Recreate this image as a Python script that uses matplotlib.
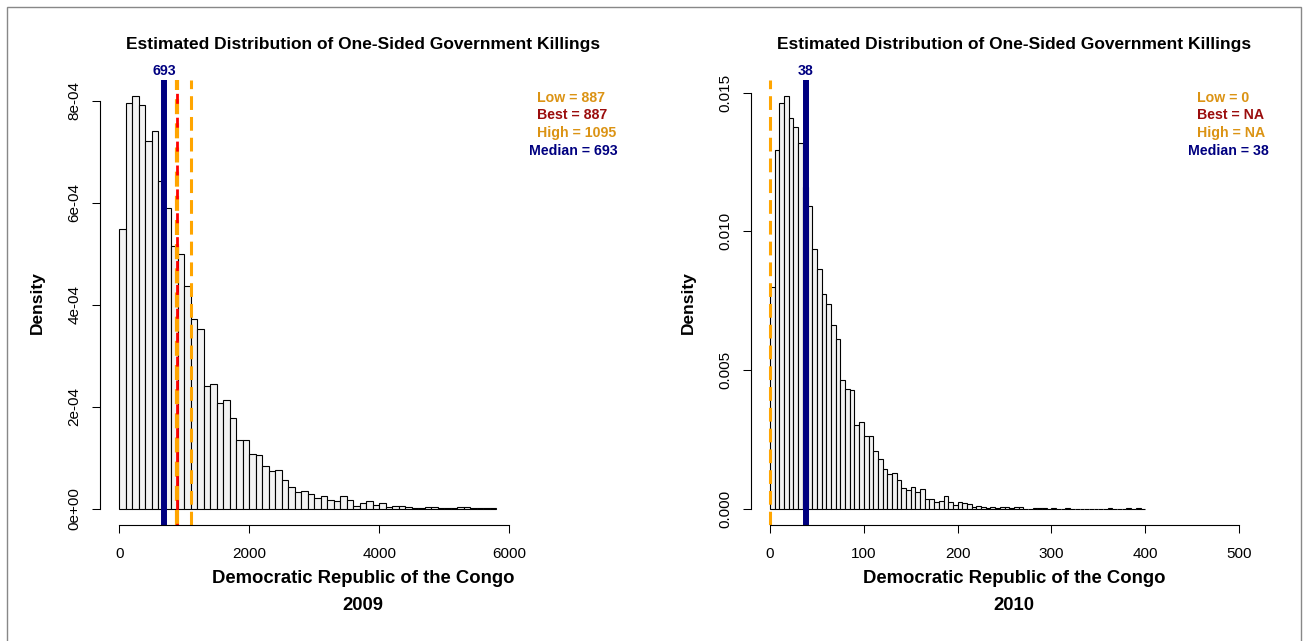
import numpy as np
import matplotlib
matplotlib.use('Agg')
import matplotlib.pyplot as plt
import matplotlib.transforms as mtransforms
from matplotlib.patches import Rectangle

plt.rcParams['font.family'] = ['Liberation Sans', 'DejaVu Sans']

# ---- data ----
title = 'Estimated Distribution of One-Sided Government Killings'
country = 'Democratic Republic of the Congo'

# 2009: 58 bins of width 100 (0 - 5800), density in units of 1e-4
bin_width_2009 = 100
density_2009 = [5.48, 7.96, 8.09, 7.91, 7.20, 7.40, 6.42, 5.89, 5.15, 4.99,
                4.37, 3.71, 3.52, 2.41, 2.45, 2.07, 2.12, 1.77, 1.35, 1.34,
                1.06, 1.04, 0.83, 0.73, 0.75, 0.55, 0.43, 0.32, 0.35, 0.29,
                0.20, 0.245, 0.167, 0.14, 0.24, 0.16, 0.043, 0.10, 0.14, 0.075,
                0.10, 0.035, 0.043, 0.055, 0.03, 0.01, 0.006, 0.024, 0.024, 0.006,
                0.003, 0.003, 0.024, 0.024, 0.01, 0.003, 0.003, 0.003]
low_2009, best_2009, high_2009, median_2009 = 887, 887, 1095, 693

# 2010: 80 bins of width 5 (0 - 400)
bin_width_2010 = 5
density_2010 = [0.00799, 0.01294, 0.01464, 0.01488, 0.0141, 0.01375, 0.01318, 0.0116,
                0.0109, 0.00935, 0.00863, 0.00772, 0.00739, 0.00661, 0.00612, 0.00464,
                0.00432, 0.00427, 0.00301, 0.00312, 0.0026, 0.00263, 0.00208, 0.00177,
                0.00141, 0.00125, 0.00128, 0.00103, 0.000735, 0.000674, 0.000793, 0.000613,
                0.000721, 0.00036, 0.00036, 0.00023, 0.000267, 0.000447, 0.00023, 0.000123,
                0.000252, 0.000216, 0.000159, 0.00006, 0.000108, 0.00006, 0.000036, 0.00006,
                0.000025, 0.000072, 0.000072, 0.000036, 0.00006, 0.00006, 0, 0,
                0.000025, 0.000025, 0.000025, 0, 0.000025, 0, 0, 0.000025,
                0, 0, 0, 0, 0, 0, 0, 0,
                0.000025, 0, 0, 0, 0.000025, 0, 0.000025, 0]
low_2010, median_2010 = 0, 38

xticks_2009 = [0, 2000, 4000, 6000]
yticks_2009 = [0, 2e-4, 4e-4, 6e-4, 8e-4]
ytick_labels_2009 = ['0e+00', '2e-04', '4e-04', '6e-04', '8e-04']
xticks_2010 = [0, 100, 200, 300, 400, 500]
yticks_2010 = [0, 0.005, 0.010, 0.015]
ytick_labels_2010 = ['0.000', '0.005', '0.010', '0.015']

ORANGE = '#FFA500'
TXT_ORANGE = '#DB9314'
DARKRED = '#9B0D0D'
NAVY = '#000080'


def draw_panel(ax, width, dens, year, xlim, xticks, yticks, yticklabels,
               legend, median, lines):
    dens = np.asarray(dens, dtype=float)
    edges = np.arange(len(dens)) * width
    ax.bar(edges, dens, width=width, align='edge', color='#F2F2F2',
           edgecolor='black', linewidth=0.8)

    for x, col, lw, ls in lines:
        ax.axvline(x, color=col, lw=lw, ls=ls)
    ax.axvline(median, color=NAVY, lw=4.3)

    ax.set_xlim(*xlim)
    top = dens.max()
    ax.set_ylim(-0.04 * top, 1.04 * top)

    for s in ['top', 'right']:
        ax.spines[s].set_visible(False)
    ax.spines['left'].set_bounds(yticks[0], yticks[-1])
    ax.spines['bottom'].set_bounds(xticks[0], xticks[-1])
    ax.set_xticks(xticks)
    ax.set_xticklabels([str(t) for t in xticks])
    ax.set_yticks(yticks)
    ax.set_yticklabels(yticklabels, rotation=90, va='center')
    ax.tick_params(axis='both', length=5.8, width=0.75, labelsize=11)
    ax.tick_params(axis='x', pad=10)
    ax.tick_params(axis='y', pad=7.5)

    ax.text(0.5, 1.0786, title, transform=ax.transAxes, ha='center',
            va='center', fontsize=12.5, fontweight='bold')
    ax.text(0.5, -0.119, country, transform=ax.transAxes, ha='center',
            va='center', fontsize=13.3, fontweight='bold')
    ax.text(0.5, -0.1796, year, transform=ax.transAxes, ha='center',
            va='center', fontsize=13.3, fontweight='bold')
    ax.text(-0.1198, 0.5, 'Density', transform=ax.transAxes, ha='center',
            va='center', rotation=90, fontsize=12.5, fontweight='bold')

    trans = mtransforms.blended_transform_factory(ax.transData, ax.transAxes)
    ax.text(median, 1.019, str(median), transform=trans, ha='center',
            va='center', fontsize=10.2, fontweight='bold', color=NAVY)

    ys = [0.958, 0.920, 0.879, 0.840]
    for (x, txt, col), y in zip(legend, ys):
        ax.text(x, y, txt, transform=ax.transAxes, ha='left', va='center',
                fontsize=10.2, fontweight='bold', color=col)


fig = plt.figure(figsize=(13.08, 6.41), dpi=100)
ax1 = fig.add_axes([100 / 1308, 116 / 641, 526 / 1308, 445.5 / 641])
ax2 = fig.add_axes([751 / 1308, 116 / 641, 526 / 1308, 445.5 / 641])

draw_panel(ax1, bin_width_2009, np.array(density_2009) * 1e-4, '2009',
           (-300, 7800), xticks_2009, yticks_2009, ytick_labels_2009,
           [(0.831, 'Low = %d' % low_2009, TXT_ORANGE),
            (0.831, 'Best = %d' % best_2009, DARKRED),
            (0.831, 'High = %d' % high_2009, TXT_ORANGE),
            (0.816, 'Median = %d' % median_2009, NAVY)],
           median_2009,
           [(low_2009, ORANGE, 3.0, (0, (3.6, 2.2))),
            (best_2009, 'red', 2.0, (3.0, (3.6, 5.0))),
            (high_2009, ORANGE, 2.2, (0, (4.5, 2.3)))])

draw_panel(ax2, bin_width_2010, density_2010, '2010',
           (-20.3, 540.5), xticks_2010, yticks_2010, ytick_labels_2010,
           [(0.848, 'Low = %d' % low_2010, TXT_ORANGE),
            (0.848, 'Best = NA', DARKRED),
            (0.848, 'High = NA', TXT_ORANGE),
            (0.831, 'Median = %d' % median_2010, NAVY)],
           median_2010,
           [(low_2010, ORANGE, 2.2, (0, (4.5, 2.3)))])

fig.patches.append(Rectangle((7 / 1308, -0.05), 1294 / 1308, 1.05 - 7 / 641,
                             transform=fig.transFigure, fill=False,
                             edgecolor='#888888', lw=1))

fig.savefig('out.png', dpi=100)
